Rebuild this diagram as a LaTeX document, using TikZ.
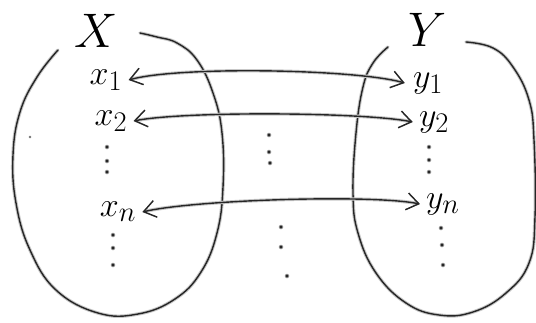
\documentclass[tikz,border=0pt]{standalone}
\usetikzlibrary{arrows.meta}
\begin{document}
\begin{tikzpicture}[x=1pt,y=-1pt,
  ink/.style={draw=black!85,line width=1.4pt,line cap=round,line join=round,
    preaction={draw=black!22,line width=3.4pt,line cap=round,line join=round}},
  elem/.style={inner sep=0pt,font=\Huge,scale=1.37},
  setname/.style={inner sep=0pt,font=\Huge,scale=1.95},
  barb/.tip={Straight Barb[length=12pt,width=17pt,line width=1.4pt]},
  arr/.style={ink,{barb}-{barb}},
  pt/.style={circle,fill=black!85,draw=black!25,line width=0.6pt,inner sep=0pt,minimum size=4pt}]
\useasboundingbox (0,0) rectangle (536,322);

% the two sets
\draw[ink] plot[smooth,tension=0.7] coordinates {(58,50) (37,77) (20,112) (13,155) (16,203) (30,250) (56,290) (98,313) (138,314) (175,299) (201,272) (217,233) (223,187) (222,133) (213,93) (197,60) (177,43) (157,37) (140,33)};
\draw[ink] plot[smooth,tension=0.7] coordinates {(388,47) (373,63) (363,87) (356,133) (353,193) (358,233) (376,273) (406,303) (439,315) (473,312) (506,293) (529,263) (535,217) (534,140) (529,100) (513,67) (493,48) (466,42)};

% set names
\node[setname] (X) at (96,31) {$X$};
\node[setname] (Y) at (428,30) {$Y$};

% elements
\node[elem] (x1) at (106,80) {$x_1$};
\node[elem] (x2) at (111,121) {$x_2$};
\node[elem] (xn) at (118,212) {$x_n$};
\node[elem] (y1) at (428,83) {$y_1$};
\node[elem] (y2) at (434,122) {$y_2$};
\node[elem] (yn) at (443,204) {$y_n$};

% vertical ellipses
\foreach \p in {(107,147),(107,161),(107,172),(113,235),(113,248),(113,265),
                (269,135),(269,152),(270,163),(281,227),(281,247),(287,276),
                (429,147),(429,160),(429,172),(441,228),(442,245),(443,265)}
  \node[pt] at \p {};
\node[circle,fill=black!55,inner sep=0pt,minimum size=2.6pt] at (30,137) {};

% correspondences
\draw[arr] ([xshift=6pt]x1.east) .. controls +(50,-14) and +(-50,-14) .. ([xshift=-8pt]y1.west);
\draw[arr] ([xshift=6pt]x2.east) .. controls +(50,-10) and +(-50,-10) .. ([xshift=-6pt]y2.west);
\draw[arr] ([xshift=6pt]xn.east) .. controls +(50,-12) and +(-50,-10) .. ([xshift=-6pt]yn.west);
\end{tikzpicture}
\end{document}
